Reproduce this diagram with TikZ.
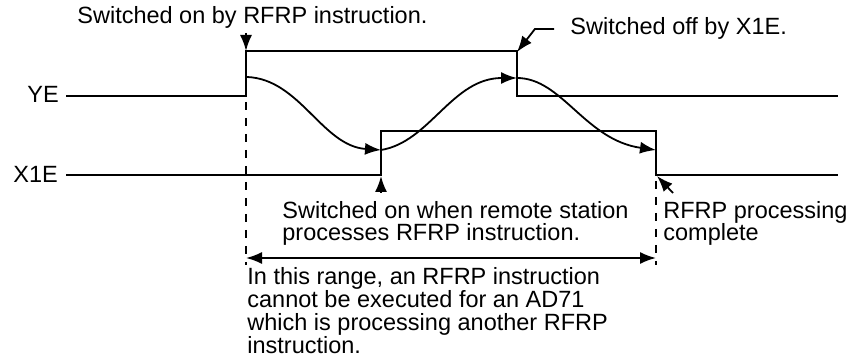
\documentclass[tikz,border=0pt]{standalone}
\usepackage{fontspec}
\setmainfont{Liberation Sans}
\usetikzlibrary{
    arrows.meta,
    positioning,
    calc
}
\tikzstyle{signal} = [
    line width=1pt,
    draw=black
]
\tikzstyle{arrow} = [
    -{Latex[length=8pt,width=6pt]},
    line width=0.9pt,
    draw=black
]
\tikzstyle{guide} = [
    dashed,
    dash pattern=on 4pt off 4pt,
    line width=0.6pt,
    draw=black
]
\tikzstyle{txt} = [
    anchor=base west,
    inner sep=0pt,
    align=left,
    font=\fontsize{11.75}{11.4}\selectfont
]

\begin{document}
\begin{tikzpicture}[x=0.5pt, y=-0.5pt]
    \useasboundingbox (0,0) rectangle (863,358);

    % Key points of the timing chart
    \coordinate (yestart) at (66,96);
    \coordinate (yeon) at (246,51);
    \coordinate (yeoff) at (517,51);
    \coordinate (yeend) at (838,96);
    \coordinate (xstart) at (66,175);
    \coordinate (xon) at (381,175);
    \coordinate (xoff) at (656,175);
    \coordinate (xend) at (838,175);

    % Signal names
    \node[txt] (ye) at (27,103) {YE};
    \node[txt] (x1e) at (13,183) {X1E};

    % YE signal
    \draw[signal] (yestart) -- (yestart -| yeon) -- (yeon) -- (yeoff)
        -- (yeoff |- yeend) -- (yeend);

    % X1E signal
    \draw[signal] (xstart) -- (xon) -- ($(xon)+(0,-44)$) -- ($(xoff)+(0,-44)$)
        -- (xoff) -- (xend);

    % Handshake flow
    \coordinate (c1) at (247,77);
    \coordinate (c2) at (381,150);
    \coordinate (c3) at (517,78);
    \coordinate (c4) at (656,150);
    \draw[arrow] (c1) .. controls (300,79) and (322,146) .. (c2);
    \draw[arrow] (c2) .. controls (430,142) and (452,78) .. (c3);
    \draw[arrow] (c3) .. controls (562,78) and (585,140) .. (c4);

    % Annotations (base = last line)
    \node[txt] (onby) at (77,24) {Switched on by RFRP instruction.};
    \node[txt] (offby) at (570,35) {Switched off by X1E.};
    \node[txt] (remote) at (282,241) {Switched on when remote station\\processes RFRP instruction.};
    \node[txt] (done) at (663,241) {RFRP processing\\complete};
    \node[txt] (range) at (247,353) {In this range, an RFRP instruction\\cannot be executed for an AD71\\which is processing another RFRP\\instruction.};

    % Annotation arrows
    \draw[arrow] ($(yeon)+(0,-18)$) -- (yeon);
    \draw[arrow] ($(offby.west)+(-16,0)$) -- ++(-19,0) -- ($(yeoff)+(0,1)$);
    \draw[arrow] ($(xon)+(0,18)$) -- ($(xon)+(0,1)$);
    \draw[arrow] ($(xoff)+(17,18)$) -- ($(xoff)+(1,1)$);

    % Range markers
    \draw[guide] ($(yestart -| yeon)+(0,6)$) -- ($(yeon)+(0,214)$);
    \draw[guide] ($(xoff)+(0,6)$) -- ($(xoff)+(0,90)$);
    \draw[arrow, {Latex[length=8pt,width=6pt]}-{Latex[length=8pt,width=6pt]}]
        ($(yeon)+(0,207)$) -- ($(xoff)+(0,83)$);
\end{tikzpicture}
\end{document}
